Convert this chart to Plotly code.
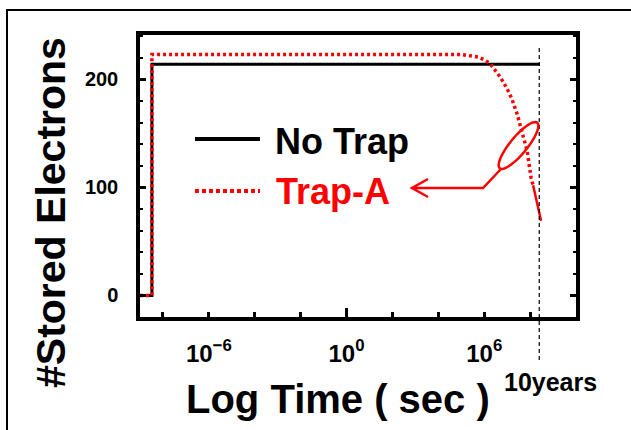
import numpy as np
import plotly.graph_objects as go

# ---------------- data ----------------
no_trap_time = [1e-9, 3.3e-9, 3.3e-9, 2.7e8]
no_trap_value = [0, 0, 214, 214]

trap_a_time = [1e-9, 3.3e-9, 3.3e-9, 1e5, 5.5e5, 1.1e6, 1.8e6, 3.0e6, 5.0e6,
               9.8e6, 1.6e7, 2.7e7, 4.5e7, 7.4e7, 1.1e8, 1.35e8]
trap_a_value = [0, 0, 223, 223, 220.6, 217.6, 214.5, 208, 202,
                191.6, 182, 168, 150, 134, 109, 102]

trap_a_tail_time = [1.35e8, 3.0e8]
trap_a_tail_value = [102, 69]

ten_years_time = 2.5e8

x_tick_vals = [1e-8, 1e-6, 1e-4, 1e-2, 1, 1e2, 1e4, 1e6, 1e8]
x_tick_text = ["", "10<sup>−6</sup>", "", "", "10<sup>0</sup>", "", "", "10<sup>6</sup>", ""]
y_tick_vals = [0, 100, 200]
y_tick_text = ["0", "100", "200"]

legend_labels = ["No Trap", "Trap-A"]

# ---------------- layout geometry ----------------
W, H = 631, 430
ML, MR, MT, MB = 140, 55, 35, 113
PW, PH = W - ML - MR, H - MT - MB

def px(x):
    return (x - ML) / PW

def py(y):
    return (H - MB - y) / PH

FONT = "Liberation Sans, Arial, sans-serif"
RED = "#ff0000"

fig = go.Figure()
fig.add_trace(go.Scatter(x=no_trap_time, y=no_trap_value, mode="lines",
                         line=dict(color="black", width=3), showlegend=False,
                         name=legend_labels[0]))
fig.add_trace(go.Scatter(x=trap_a_time, y=trap_a_value, mode="lines",
                         line=dict(color=RED, width=3.5, dash="3px,3px"),
                         showlegend=False, name=legend_labels[1]))
fig.add_trace(go.Scatter(x=trap_a_tail_time, y=trap_a_tail_value, mode="lines",
                         line=dict(color=RED, width=2.5), showlegend=False,
                         hoverinfo="skip"))

shapes = []
# outer frame
shapes.append(dict(type="rect", xref="paper", yref="paper",
                   x0=px(7), x1=px(660), y0=py(460), y1=py(10),
                   line=dict(color="black", width=2), fillcolor="rgba(0,0,0,0)",
                   layer="below"))
# 10 years dashed line
shapes.append(dict(type="line", xref="x", yref="paper",
                   x0=ten_years_time, x1=ten_years_time,
                   y0=py(360), y1=py(47), line=dict(color="black", width=1.2, dash="4px,3px")))
# longer tick at 10^0
shapes.append(dict(type="line", xref="x", yref="paper", x0=1, x1=1,
                   y0=py(317), y1=py(308), line=dict(color="black", width=3)))
# legend samples
shapes.append(dict(type="line", xref="paper", yref="paper", x0=px(195), x1=px(260),
                   y0=py(139), y1=py(139), line=dict(color="black", width=4)))
shapes.append(dict(type="line", xref="paper", yref="paper", x0=px(195), x1=px(260),
                   y0=py(191), y1=py(191), line=dict(color=RED, width=4, dash="4px,3px")))
# ellipse marker
cx, cy, a, b, ang = 518.5, 145.5, 29.5, 8.5, np.deg2rad(-50.6)
t = np.linspace(0, 2 * np.pi, 60)
ex = cx + a * np.cos(t) * np.cos(ang) - b * np.sin(t) * np.sin(ang)
ey = cy + a * np.cos(t) * np.sin(ang) + b * np.sin(t) * np.cos(ang)
path = "M " + " L ".join(f"{px(u):.5f},{py(v):.5f}" for u, v in zip(ex, ey)) + " Z"
shapes.append(dict(type="path", xref="paper", yref="paper", path=path,
                   line=dict(color=RED, width=2.5)))
# pointer line + open arrow head
pts = [(501, 169), (483, 188), (412, 188)]
p2 = "M " + " L ".join(f"{px(u):.5f},{py(v):.5f}" for u, v in pts)
head = [(428, 179), (412, 188), (428, 197)]
p2 += " M " + " L ".join(f"{px(u):.5f},{py(v):.5f}" for u, v in head)
shapes.append(dict(type="path", xref="paper", yref="paper", path=p2,
                   line=dict(color=RED, width=2.5)))

annotations = [
    dict(text="<b>" + legend_labels[0] + "</b>", xref="paper", yref="paper",
         x=px(273), y=py(141), xanchor="left", yanchor="middle", showarrow=False,
         font=dict(family=FONT, size=36, color="black")),
    dict(text="<b>" + legend_labels[1] + "</b>", xref="paper", yref="paper",
         x=px(274), y=py(191), xanchor="left", yanchor="middle", showarrow=False,
         font=dict(family=FONT, size=36, color=RED)),
    dict(text="<b>#Stored Electrons</b>", xref="paper", yref="paper",
         x=px(51), y=py(213), xanchor="center", yanchor="middle", showarrow=False,
         textangle=-90, font=dict(family=FONT, size=41, color="black")),
    dict(text="<b>Log Time ( sec )</b>", xref="paper", yref="paper",
         x=px(338), y=py(399), xanchor="center", yanchor="middle", showarrow=False,
         font=dict(family=FONT, size=40, color="black")),
    dict(text="<b>10years</b>", xref="paper", yref="paper",
         x=px(550), y=py(382), xanchor="center", yanchor="middle", showarrow=False,
         font=dict(family=FONT, size=25, color="black")),
]

fig.update_layout(
    width=W, height=H,
    margin=dict(l=ML, r=MR, t=MT, b=MB, pad=0, autoexpand=False),
    paper_bgcolor="white", plot_bgcolor="white",
    shapes=shapes, annotations=annotations,
    font=dict(family=FONT, color="black"),
    showlegend=False,
    xaxis=dict(type="log", range=[-9, 10], tickvals=x_tick_vals, ticktext=x_tick_text,
               ticks="inside", ticklen=5, tickwidth=3, tickcolor="black",
               showline=True, linewidth=3.5, linecolor="black", mirror=True,
               showgrid=False, zeroline=False, ticklabelstandoff=12, automargin=False,
               tickfont=dict(family=FONT, size=24, color="black", weight="bold")),
    yaxis=dict(range=[-20, 241], tickvals=y_tick_vals, ticktext=y_tick_text,
               ticks="inside", ticklen=6, tickwidth=3, tickcolor="black",
               minor=dict(ticks="inside", ticklen=3, tickwidth=2, dtick=20, tick0=0,
                          tickcolor="black"),
               showline=True, linewidth=3.5, linecolor="black", mirror="ticks",
               showgrid=False, zeroline=False, ticklabelstandoff=14, automargin=False,
               tickfont=dict(family=FONT, size=20, color="black", weight="bold")),
)

fig.write_html(
    "out.html",
    config={"displayModeBar": False},
    post_script="document.body.style.margin='0';document.body.style.padding='0';"
                "document.body.style.overflow='hidden';",
)
